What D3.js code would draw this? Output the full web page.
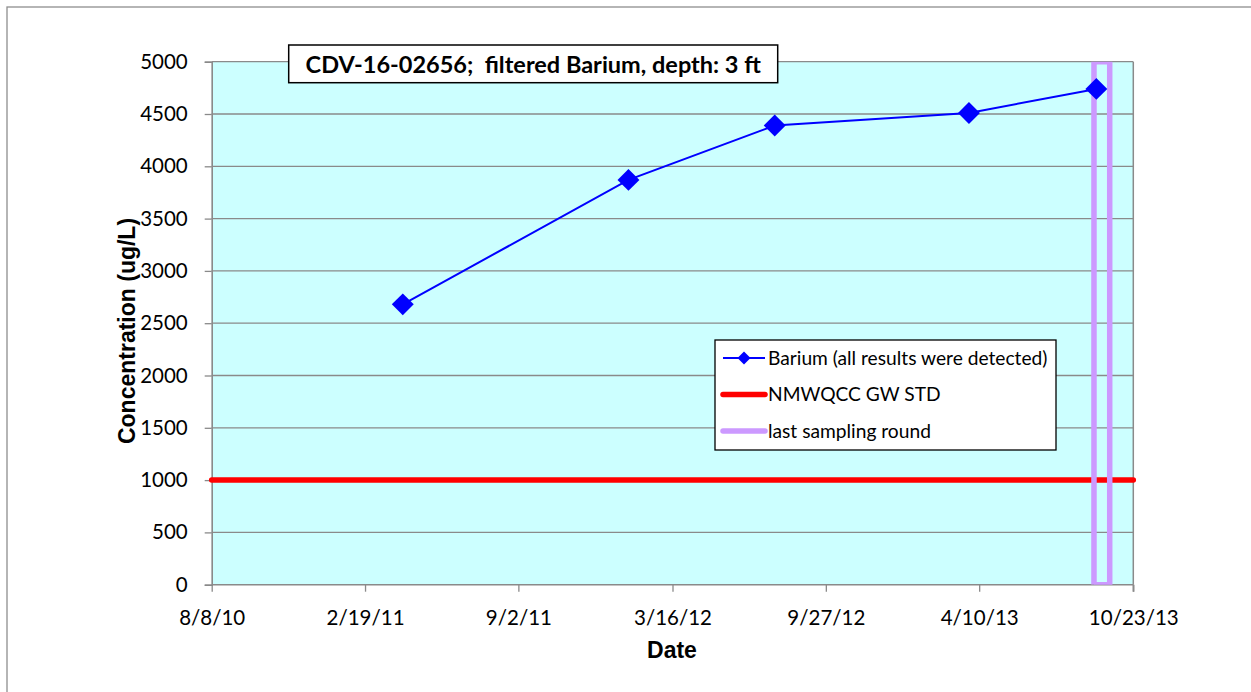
<!DOCTYPE html>
<html>
<head>
<meta charset="utf-8">
<script src="https://cdn.jsdelivr.net/npm/d3@7"></script>
<style>
  body { margin: 0; background: #fff; }
  svg { display: block; }
  .tick text { font-family: Lato, "Open Sans", sans-serif; font-size: 20.5px; fill: #000; }
</style>
</head>
<body>
<div id="chart"></div>
<script>
// sample dates and barium results (ug/L)
var sampleDates = ["4/8/11", "1/20/12", "7/24/12", "3/28/13", "9/6/13"];
var bariumValues = [2680, 3870, 4390, 4510, 4740];

// NMWQCC groundwater standard
var stdDates = ["8/8/10", "10/23/13"];
var stdValues = [1000, 1000];

// last sampling round box
var lastRoundDates = ["9/3/13", "9/3/13", "9/23/13", "9/23/13", "9/3/13"];
var lastRoundValues = [0, 5000, 5000, 0, 0];

var xTickLabels = ["8/8/10", "2/19/11", "9/2/11", "3/16/12", "9/27/12", "4/10/13", "10/23/13"];
var yTickValues = [0, 500, 1000, 1500, 2000, 2500, 3000, 3500, 4000, 4500, 5000];

var legendLabels = ["Barium (all results were detected)", "NMWQCC GW STD", "last sampling round"];

var parseDate = d3.utcParse("%m/%d/%y");
var fmtDate = d3.utcFormat("%-m/%-d/%y");

var W = 1251, H = 692;
var margin = { left: 211.7, right: 117.7, top: 61.7, bottom: 107.3 };
var width = W - margin.left - margin.right;
var height = H - margin.top - margin.bottom;

var svg = d3.select("#chart")
  .append("svg")
  .attr("width", W)
  .attr("height", H);

// outer chart border (only top/left visible in the crop)
svg.append("rect")
  .attr("x", 7).attr("y", 7)
  .attr("width", W + 20).attr("height", H + 20)
  .attr("fill", "#fff")
  .attr("stroke", "#8e8e8e")
  .attr("stroke-width", 1.3);

var g = svg.append("g")
  .attr("transform", "translate(" + margin.left + "," + margin.top + ")");

var x = d3.scaleUtc()
  .domain([parseDate(xTickLabels[0]), parseDate(xTickLabels[xTickLabels.length - 1])])
  .range([0, width]);

var y = d3.scaleLinear()
  .domain([0, 5000])
  .range([height, 0]);

// plot area
g.append("rect")
  .attr("width", width)
  .attr("height", height)
  .attr("fill", "#ccffff");

g.append("clipPath").attr("id", "plotClip")
  .append("rect")
  .attr("width", width)
  .attr("height", height);

// gridlines
g.append("g")
  .selectAll("line")
  .data(yTickValues.filter(function (d) { return d > 0; }))
  .enter()
  .append("line")
  .attr("x1", 0).attr("x2", width)
  .attr("y1", function (d) { return y(d); })
  .attr("y2", function (d) { return y(d); })
  .attr("stroke", "#8a8a8a")
  .attr("stroke-width", 1.3);

// right border of plot
g.append("line")
  .attr("x1", width).attr("x2", width)
  .attr("y1", 0).attr("y2", height)
  .attr("stroke", "#8a8a8a")
  .attr("stroke-width", 1.5);

// Y Axis
var yAxisGroup = g.append("g")
  .call(d3.axisLeft(y)
    .tickValues(yTickValues)
    .tickFormat(d3.format("d"))
    .tickSize(7)
    .tickPadding(17));

// X Axis
var xAxisGroup = g.append("g")
  .attr("transform", "translate(0," + height + ")")
  .call(d3.axisBottom(x)
    .tickValues(xTickLabels.map(parseDate))
    .tickFormat(fmtDate)
    .tickSize(7)
    .tickPadding(19));

[yAxisGroup, xAxisGroup].forEach(function (ax) {
  ax.select(".domain").attr("stroke", "#8a8a8a").attr("stroke-width", 1.6);
  ax.selectAll(".tick line").attr("stroke", "#8a8a8a").attr("stroke-width", 1.3);
});
xAxisGroup.select(".domain").attr("d", "M0,0H" + width + "M" + width + ",0V7");

// std line
var line = d3.line()
  .x(function (d) { return x(d.date); })
  .y(function (d) { return y(d.value); });

var stdData = stdDates.map(function (d, i) { return { date: parseDate(d), value: stdValues[i] }; });
g.append("path")
  .datum(stdData)
  .attr("d", line)
  .attr("fill", "none")
  .attr("stroke", "#ff0000")
  .attr("stroke-width", 5.5)
  .attr("stroke-linecap", "round");

// last sampling round (clipped to plot like Excel)
var lastData = lastRoundDates.map(function (d, i) { return { date: parseDate(d), value: lastRoundValues[i] }; });
g.append("path")
  .datum(lastData)
  .attr("clip-path", "url(#plotClip)")
  .attr("d", line)
  .attr("fill", "none")
  .attr("stroke", "#cc99ff")
  .attr("stroke-width", 5.5);

// barium series
var baData = sampleDates.map(function (d, i) { return { date: parseDate(d), value: bariumValues[i] }; });
g.append("path")
  .datum(baData)
  .attr("d", line)
  .attr("fill", "none")
  .attr("stroke", "#0000ff")
  .attr("stroke-width", 2);

g.selectAll(".marker")
  .data(baData)
  .enter()
  .append("path")
  .attr("class", "marker")
  .attr("transform", function (d) { return "translate(" + x(d.date) + "," + y(d.value) + ") rotate(45)"; })
  .attr("d", d3.symbol().type(d3.symbolSquare).size(240))
  .attr("fill", "#0000ff");

// Y Label
svg.append("text")
  .attr("transform", "translate(135," + 331 + ") rotate(-90)")
  .attr("text-anchor", "middle")
  .attr("font-family", "'Liberation Sans', Arial, sans-serif")
  .attr("font-weight", "bold")
  .attr("font-size", "23px")
  .text("Concentration (ug/L)");

// X Label
svg.append("text")
  .attr("x", 672)
  .attr("y", 658)
  .attr("text-anchor", "middle")
  .attr("font-family", "'Liberation Sans', Arial, sans-serif")
  .attr("font-weight", "bold")
  .attr("font-size", "23px")
  .text("Date");

// title box
svg.append("rect")
  .attr("x", 288.7).attr("y", 45)
  .attr("width", 489).attr("height", 37.7)
  .attr("fill", "#fff")
  .attr("stroke", "#000")
  .attr("stroke-width", 1.5);
svg.append("text")
  .attr("x", 533.2)
  .attr("y", 72.5)
  .attr("text-anchor", "middle")
  .attr("xml:space", "preserve")
  .style("white-space", "pre")
  .attr("font-family", "Lato, sans-serif")
  .attr("font-weight", "bold")
  .attr("font-size", "23.5px")
  .text("CDV-16-02656;  filtered Barium, depth: 3 ft");

// legend
var legend = svg.append("g").attr("transform", "translate(715,340)");
legend.append("rect")
  .attr("width", 341).attr("height", 110)
  .attr("fill", "#fff")
  .attr("stroke", "#000")
  .attr("stroke-width", 1.3);

var legendStyles = [
  { color: "#0000ff", width: 2, marker: true },
  { color: "#ff0000", width: 5.5, marker: false },
  { color: "#cc99ff", width: 5.5, marker: false }
];
var legendRowY = [18, 54.5, 91];

legendLabels.forEach(function (lab, i) {
  var row = legend.append("g").attr("transform", "translate(0," + legendRowY[i] + ")");
  var st = legendStyles[i];
  row.append("line")
    .attr("x1", 8).attr("x2", 50)
    .attr("stroke", st.color)
    .attr("stroke-width", st.width)
    .attr("stroke-linecap", st.marker ? "butt" : "round");
  if (st.marker) {
    row.append("path")
      .attr("transform", "translate(29,0) rotate(45)")
      .attr("d", d3.symbol().type(d3.symbolSquare).size(85))
      .attr("fill", st.color);
  }
  row.append("text")
    .attr("x", 53)
    .attr("y", 6.5)
    .attr("font-family", "Lato, sans-serif")
    .attr("font-size", "19.2px")
    .text(lab);
});
</script>
</body>
</html>
